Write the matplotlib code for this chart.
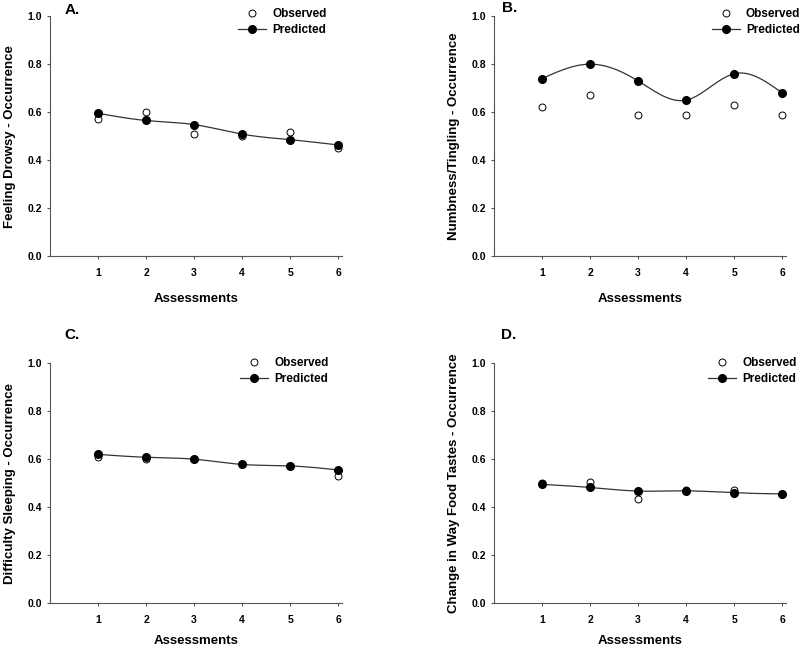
import numpy as np
import matplotlib
matplotlib.use("Agg")
import matplotlib.pyplot as plt
from matplotlib.lines import Line2D

plt.rcParams['font.family'] = ['Liberation Sans', 'DejaVu Sans']
plt.rcParams['font.weight'] = 'bold'

assessments = [1, 2, 3, 4, 5, 6]

drowsy_obs = [0.57, 0.60, 0.51, 0.50, 0.515, 0.45]
drowsy_pred = [0.595, 0.565, 0.548, 0.508, 0.485, 0.463]

numb_obs = [0.62, 0.67, 0.59, 0.59, 0.63, 0.59]
numb_pred = [0.74, 0.80, 0.73, 0.65, 0.76, 0.68]

sleep_obs = [0.61, 0.60, 0.60, 0.58, 0.57, 0.53]
sleep_pred = [0.62, 0.608, 0.60, 0.578, 0.572, 0.555]

taste_obs = [0.50, 0.505, 0.435, 0.47, 0.47, 0.455]
taste_pred = [0.495, 0.482, 0.467, 0.468, 0.46, 0.455]

panels = [
    ("A.", "Feeling Drowsy - Occurrence", drowsy_obs, drowsy_pred),
    ("B.", "Numbness/Tingling - Occurrence", numb_obs, numb_pred),
    ("C.", "Difficulty Sleeping - Occurrence", sleep_obs, sleep_pred),
    ("D.", "Change in Way Food Tastes - Occurrence", taste_obs, taste_pred),
]


def natural_spline(x, y, n=200):
    # natural cubic spline through the points, just for drawing the curve
    x = np.asarray(x, float)
    y = np.asarray(y, float)
    k = len(x)
    h = np.diff(x)
    A = np.zeros((k, k))
    b = np.zeros(k)
    A[0, 0] = A[-1, -1] = 1
    for i in range(1, k - 1):
        A[i, i - 1] = h[i - 1]
        A[i, i] = 2 * (h[i - 1] + h[i])
        A[i, i + 1] = h[i]
        b[i] = 3 * ((y[i + 1] - y[i]) / h[i] - (y[i] - y[i - 1]) / h[i - 1])
    c = np.linalg.solve(A, b)
    xs = np.linspace(x[0], x[-1], n)
    ys = np.empty_like(xs)
    for j, xv in enumerate(xs):
        i = min(np.searchsorted(x, xv, side='right') - 1, k - 2)
        dx = xv - x[i]
        bi = (y[i + 1] - y[i]) / h[i] - h[i] * (2 * c[i] + c[i + 1]) / 3
        di = (c[i + 1] - c[i]) / (3 * h[i])
        ys[j] = y[i] + bi * dx + c[i] * dx ** 2 + di * dx ** 3
    return xs, ys


fig = plt.figure(figsize=(8, 6.48), dpi=100)

# axes boxes [left, bottom, width, height] in figure fractions
boxes = [
    [0.0625, 0.605, 0.365, 0.370],
    [0.6175, 0.605, 0.365, 0.370],
    [0.0625, 0.0694, 0.365, 0.370],
    [0.6175, 0.0694, 0.365, 0.370],
]
legend_x = [0.644, 0.745, 0.65, 0.733]
legend_y = [1.035, 1.035, 1.025, 1.025]
xlabel_y = [-0.155, -0.155, -0.132, -0.132]
letter_pos = [(0.081, 0.985), (0.627, 0.988), (0.080, 0.483), (0.626, 0.483)]

for k, (letter, ylab, obs, pred) in enumerate(panels):
    ax = fig.add_axes(boxes[k])
    xs, ys = natural_spline(assessments, pred)
    ax.plot(xs, ys, color='#333333', lw=0.9, zorder=2)
    ax.plot(assessments, obs, 'o', mfc='white', mec='black', mew=0.7,
            ms=5, zorder=3)
    ax.plot(assessments, pred, 'o', color='black', ms=5.5, zorder=4)

    ax.set_xlim(0, 6.08)
    ax.set_ylim(0, 1.0)
    ax.set_xticks(assessments)
    ax.set_yticks([0.0, 0.2, 0.4, 0.6, 0.8, 1.0])
    ax.set_yticklabels(['0.0', '0.2', '0.4', '0.6', '0.8', '1.0'])
    for s in ['top', 'right']:
        ax.spines[s].set_visible(False)
    for s in ['left', 'bottom']:
        ax.spines[s].set_color('#555555')
        ax.spines[s].set_linewidth(0.8)
    ax.tick_params(axis='both', labelsize=7.5, length=2.5, width=0.8,
                   color='#555555')
    ax.tick_params(axis='x', pad=6)
    ax.tick_params(axis='y', pad=3)

    ax.set_xlabel("Assessments", fontsize=9.5, fontweight='bold')
    ax.set_ylabel(ylab, fontsize=9.5, fontweight='bold')
    ax.xaxis.set_label_coords(0.5, xlabel_y[k])
    ax.yaxis.set_label_coords(-0.117, 0.5)

    handles = [
        Line2D([], [], ls='none', marker='o', mfc='white', mec='black',
               mew=0.7, ms=5),
        Line2D([], [], color='#333333', lw=0.9, marker='o', mfc='black',
               mec='black', ms=5.5),
    ]
    ax.legend(handles, ['Observed', 'Predicted'], loc='upper left',
              bbox_to_anchor=(legend_x[k], legend_y[k]), frameon=False,
              borderpad=0, borderaxespad=0, handlelength=2.4,
              handletextpad=0.5, labelspacing=0.35,
              prop={'size': 8.5, 'weight': 'bold'})

    fig.text(letter_pos[k][0], letter_pos[k][1], letter, fontsize=11,
             fontweight='bold', ha='left', va='center')

fig.savefig('out.png', dpi=100)
